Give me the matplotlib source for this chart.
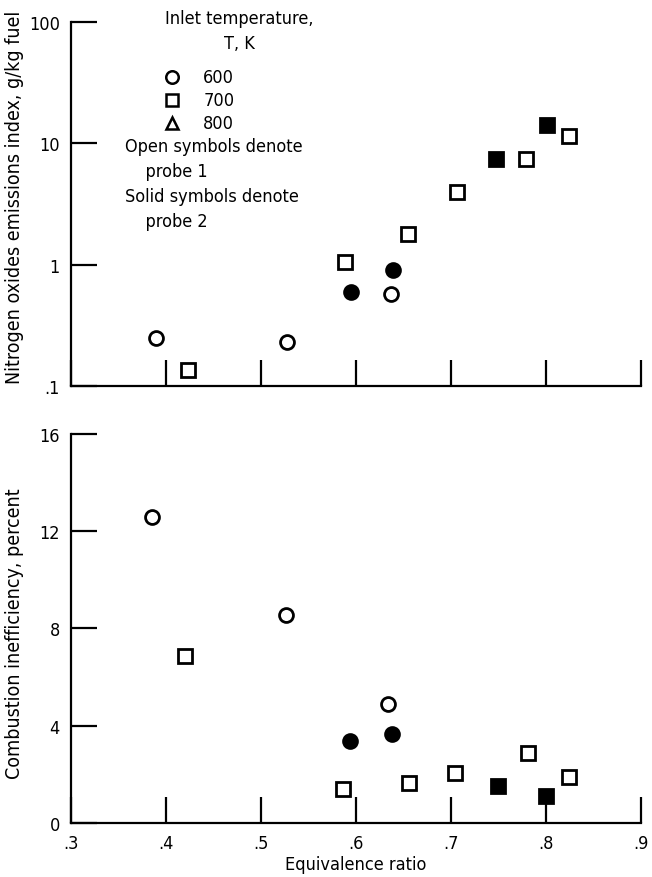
import matplotlib
matplotlib.use('Agg')
import matplotlib.pyplot as plt
from matplotlib.ticker import FixedLocator, FixedFormatter, NullLocator

plt.rcParams['font.family'] = ['DejaVu Sans']
plt.rcParams['font.stretch'] = 'condensed'

# NOx emissions index, g/kg fuel (top panel)
nox_open_circle_x = [0.389, 0.527, 0.637]
nox_open_circle_y = [0.25, 0.23, 0.575]
nox_solid_circle_x = [0.595, 0.639]
nox_solid_circle_y = [0.60, 0.91]
nox_open_square_x = [0.423, 0.588, 0.655, 0.706, 0.779, 0.824]
nox_open_square_y = [0.135, 1.06, 1.80, 3.94, 7.4, 11.4]
nox_solid_square_x = [0.748, 0.801]
nox_solid_square_y = [7.4, 14.1]

# Combustion inefficiency, percent (bottom panel)
ineff_open_circle_x = [0.385, 0.526, 0.634]
ineff_open_circle_y = [12.58, 8.54, 4.91]
ineff_solid_circle_x = [0.594, 0.638]
ineff_solid_circle_y = [3.38, 3.67]
ineff_open_square_x = [0.420, 0.586, 0.656, 0.704, 0.781, 0.824]
ineff_open_square_y = [6.85, 1.40, 1.65, 2.06, 2.89, 1.90]
ineff_solid_square_x = [0.750, 0.800]
ineff_solid_square_y = [1.53, 1.11]

x_ticks = [0.3, 0.4, 0.5, 0.6, 0.7, 0.8, 0.9]
x_tick_labels = ['.3', '.4', '.5', '.6', '.7', '.8', '.9']
nox_ticks = [0.1, 1, 10, 100]
nox_tick_labels = ['.1', '1', '10', '100']
ineff_ticks = [0, 4, 8, 12, 16]
ineff_tick_labels = ['0', '4', '8', '12', '16']

legend_temps = ['600', '700', '800']
legend_markers = ['o', 's', '^']

fig = plt.figure(figsize=(6.52, 8.78), dpi=100)
ax1 = fig.add_axes([0.1089, 0.5592, 0.874, 0.4146])
ax2 = fig.add_axes([0.1089, 0.0615, 0.874, 0.4431])

ms = 10
mew = 2.0


def style(ax):
    for s in ('top', 'right'):
        ax.spines[s].set_visible(False)
    for s in ('left', 'bottom'):
        ax.spines[s].set_linewidth(1.6)
    ax.tick_params(direction='in', length=19, width=1.6, labelsize=13,
                   pad=8)
    ax.set_xlim(0.3, 0.9)
    ax.xaxis.set_major_locator(FixedLocator(x_ticks))


def draw(ax, xs, ys, marker, filled):
    ax.plot(xs, ys, linestyle='none', marker=marker, markersize=ms,
            markeredgewidth=mew, markeredgecolor='black',
            markerfacecolor='black' if filled else 'white', clip_on=False)


style(ax1)
ax1.set_yscale('log')
ax1.set_ylim(0.1, 100)
ax1.yaxis.set_major_locator(FixedLocator(nox_ticks))
ax1.yaxis.set_major_formatter(FixedFormatter(nox_tick_labels))
ax1.yaxis.set_minor_locator(NullLocator())
ax1.set_xticklabels([])
ax1.set_ylabel('Nitrogen oxides emissions index, g/kg fuel', fontsize=14)
ax1.yaxis.set_label_coords(-0.083, 0.522)

draw(ax1, nox_open_circle_x, nox_open_circle_y, 'o', False)
draw(ax1, nox_solid_circle_x, nox_solid_circle_y, 'o', True)
draw(ax1, nox_open_square_x, nox_open_square_y, 's', False)
draw(ax1, nox_solid_square_x, nox_solid_square_y, 's', True)

# key
ax1.text(0.296, 1.035, 'Inlet temperature,\nT, K', transform=ax1.transAxes,
         ha='center', va='top', fontsize=13, linespacing=1.45)
for i, (t, m) in enumerate(zip(legend_temps, legend_markers)):
    yf = 0.848 - i * 0.063
    ax1.plot([0.177], [yf], transform=ax1.transAxes, marker=m,
             markersize=9, markeredgewidth=1.8, markeredgecolor='black',
             markerfacecolor='white', clip_on=False)
    ax1.text(0.232, yf, t, transform=ax1.transAxes, ha='left', va='center',
             fontsize=13)
ax1.text(0.095, 0.683, 'Open symbols denote\n    probe 1\nSolid symbols denote\n    probe 2',
         transform=ax1.transAxes, ha='left', va='top', fontsize=13,
         linespacing=1.5)

style(ax2)
ax2.set_ylim(0, 16)
ax2.yaxis.set_major_locator(FixedLocator(ineff_ticks))
ax2.yaxis.set_major_formatter(FixedFormatter(ineff_tick_labels))
ax2.xaxis.set_major_formatter(FixedFormatter(x_tick_labels))
ax2.set_ylabel('Combustion inefficiency, percent', fontsize=14)
ax2.yaxis.set_label_coords(-0.083, 0.49)
ax2.set_xlabel('Equivalence ratio', fontsize=13, labelpad=2)

draw(ax2, ineff_open_circle_x, ineff_open_circle_y, 'o', False)
draw(ax2, ineff_solid_circle_x, ineff_solid_circle_y, 'o', True)
draw(ax2, ineff_open_square_x, ineff_open_square_y, 's', False)
draw(ax2, ineff_solid_square_x, ineff_solid_square_y, 's', True)

fig.savefig('out.png', dpi=100)
